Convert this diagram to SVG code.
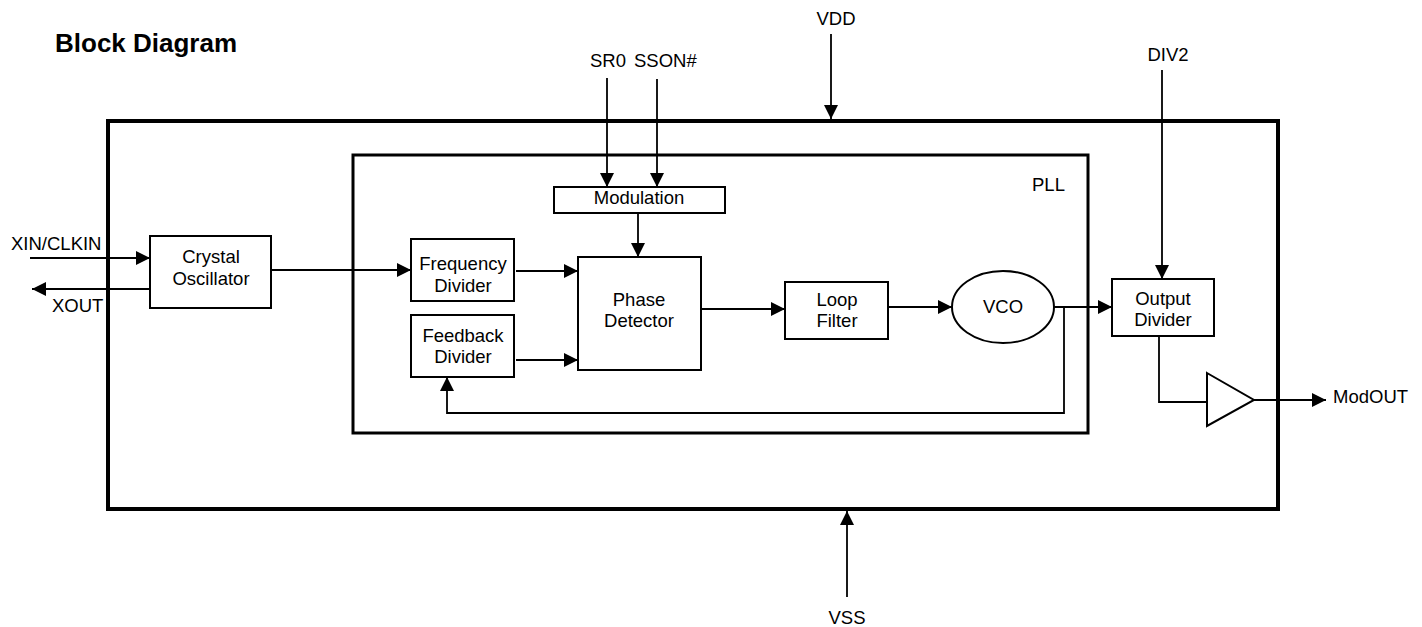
<svg xmlns="http://www.w3.org/2000/svg" width="1422" height="627" viewBox="0 0 1422 627">
<style>
text{font-family:"Liberation Sans",Arial,sans-serif;font-size:18.5px;fill:#000}
.t{font-size:26px;font-weight:bold}
.m{text-anchor:middle}
.box{fill:#fff;stroke:#000;stroke-width:2}
.frame{fill:none;stroke:#000}
.ln{fill:none;stroke:#000;stroke-width:1.8}
.ar{marker-end:url(#ah)}
</style>
<defs>
<marker id="ah" viewBox="0 0 14 14" refX="14" refY="7" markerWidth="14" markerHeight="14" markerUnits="userSpaceOnUse" orient="auto">
<path d="M0,0 L14,7 L0,14 z" fill="#000"/>
</marker>
</defs>
<rect width="1422" height="627" fill="#fff"/>
<text class="t" x="55" y="52">Block Diagram</text>
<g id="chip"><rect class="frame" x="108" y="121" width="1170" height="388" stroke-width="4"/></g>
<g id="pll"><rect class="frame" x="353" y="155" width="735" height="278" stroke-width="3"/><text x="1032" y="191">PLL</text></g>
<g id="pins">
<text class="m" x="836" y="25">VDD</text>
<text x="590" y="67">SR0</text>
<text x="634" y="67">SSON#</text>
<text class="m" x="1168" y="61">DIV2</text>
<text x="11" y="250">XIN/CLKIN</text>
<text x="52" y="312">XOUT</text>
<text x="1333" y="403">ModOUT</text>
<text class="m" x="847" y="624">VSS</text>
</g>
<g id="connectors">
<line class="ln ar" x1="831" y1="34" x2="831" y2="119"/>
<line class="ln ar" x1="607" y1="78" x2="607" y2="187"/>
<line class="ln ar" x1="657" y1="79" x2="657" y2="187"/>
<line class="ln ar" x1="638" y1="213" x2="638" y2="257"/>
<line class="ln ar" x1="30" y1="258" x2="150" y2="258"/>
<line class="ln ar" x1="150" y1="289" x2="32" y2="289"/>
<line class="ln ar" x1="271" y1="270" x2="411" y2="270"/>
<line class="ln ar" x1="516" y1="271" x2="578" y2="271"/>
<line class="ln ar" x1="516" y1="360" x2="578" y2="360"/>
<line class="ln ar" x1="701" y1="309" x2="785" y2="309"/>
<line class="ln ar" x1="888" y1="307" x2="952" y2="307"/>
<line class="ln ar" x1="1053" y1="307" x2="1112" y2="307"/>
<path class="ln ar" d="M1064,307 V413 H447 V377"/>
<line class="ln ar" x1="1162" y1="70" x2="1162" y2="279"/>
<path class="ln" d="M1159,336 V402 H1207"/>
<line class="ln ar" x1="1254" y1="400" x2="1326" y2="400"/>
<line class="ln ar" x1="847" y1="597" x2="847" y2="511"/>
</g>
<g id="crystal"><rect class="box" x="150" y="236" width="121" height="72"/><text class="m" x="211" y="263">Crystal</text><text class="m" x="211" y="285">Oscillator</text></g>
<g id="modulation"><rect class="box" x="554" y="187" width="171" height="26"/><text class="m" x="639" y="204">Modulation</text></g>
<g id="freqdiv"><rect class="box" x="411" y="239" width="103" height="62"/><text class="m" x="463" y="270">Frequency</text><text class="m" x="463" y="292">Divider</text></g>
<g id="fbdiv"><rect class="box" x="411" y="315" width="103" height="62"/><text class="m" x="463" y="342">Feedback</text><text class="m" x="463" y="363">Divider</text></g>
<g id="phasedet"><rect class="box" x="578" y="257" width="123" height="113"/><text class="m" x="639" y="306">Phase</text><text class="m" x="639" y="327">Detector</text></g>
<g id="loopfilter"><rect class="box" x="785" y="282" width="103" height="57"/><text class="m" x="837" y="306">Loop</text><text class="m" x="837" y="327">Filter</text></g>
<g id="vco"><ellipse class="box" cx="1003" cy="307" rx="51" ry="36"/><text class="m" x="1003" y="313">VCO</text></g>
<g id="outdiv"><rect class="box" x="1112" y="279" width="102" height="57"/><text class="m" x="1163" y="305">Output</text><text class="m" x="1163" y="326">Divider</text></g>
<g id="buffer"><polygon class="box" points="1207,373 1254,400 1207,426"/></g>
</svg>
